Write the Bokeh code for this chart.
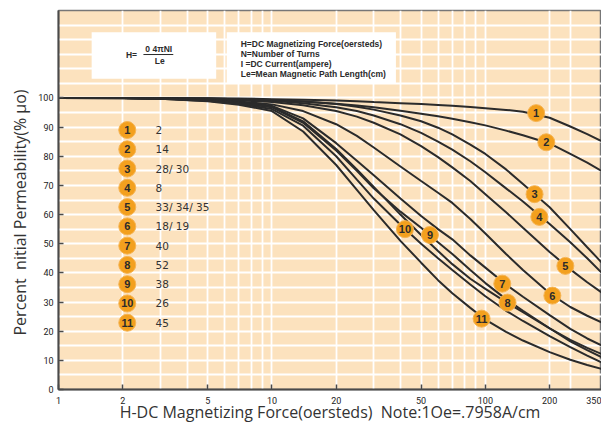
from bokeh.plotting import figure
from bokeh.models import FixedTicker, CustomJSTickFormatter, Title
from bokeh.core.properties import value
from bokeh.embed import file_html
from bokeh.resources import INLINE

# ---------------- data ----------------
H = [1, 2, 3, 5, 7, 10, 14, 20, 25, 30, 40, 50, 60, 70, 85, 100, 125, 150, 200, 250, 300, 350]

c1 = [100, 100, 100, 99.9, 99.8, 99.6, 99.4, 99.1, 98.9, 98.6, 98.2, 97.9, 97.6, 97.3, 96.9, 96.5, 95.9, 95.3, 93.2, 90.2, 87.6, 85.2]
c2 = [100, 100, 99.9, 99.8, 99.6, 99.3, 98.8, 98.0, 97.4, 96.8, 95.6, 94.6, 93.7, 92.9, 91.7, 90.6, 88.8, 87.2, 84.4, 80.8, 77.8, 75.0]
c3 = [100, 100, 99.9, 99.8, 99.6, 99.3, 98.8, 97.9, 97.0, 96.0, 94.0, 92.0, 89.8, 87.5, 84.0, 80.8, 75.5, 70.5, 62.5, 55.0, 48.8, 43.6]
c4 = [100, 100, 99.9, 99.7, 99.4, 99.0, 98.2, 96.8, 95.5, 94.0, 91.0, 88.0, 85.0, 82.3, 78.3, 74.5, 69.0, 64.5, 56.8, 50.5, 45.0, 40.1]
c5 = [100, 100, 99.9, 99.6, 99.2, 98.6, 97.5, 95.5, 93.6, 91.5, 87.5, 83.5, 79.7, 76.2, 71.5, 67.0, 60.8, 55.5, 47.2, 41.2, 36.8, 33.3]
c6 = [100, 100, 99.8, 99.4, 98.8, 97.8, 95.5, 91.0, 87.0, 83.0, 76.5, 71.5, 67.5, 64.0, 58.5, 53.5, 46.5, 41.0, 33.0, 28.3, 25.3, 23.0]
c7 = [100, 100, 99.8, 99.3, 98.6, 97.3, 93.0, 84.5, 78.5, 73.5, 65.5, 59.5, 55.0, 51.5, 46.0, 41.8, 36.0, 31.8, 25.5, 20.8, 17.5, 15.1]
c8 = [100, 100, 99.8, 99.2, 98.4, 97.0, 92.0, 82.5, 75.5, 69.5, 60.0, 53.0, 47.5, 43.0, 38.0, 34.5, 30.0, 26.5, 21.0, 17.0, 14.3, 12.2]
c9 = [100, 100, 99.8, 99.2, 98.3, 96.8, 91.5, 82.0, 75.0, 69.0, 61.0, 55.5, 50.5, 46.5, 41.0, 36.5, 31.0, 27.0, 21.0, 16.5, 13.5, 11.1]
c10 = [100, 99.9, 99.7, 99.0, 98.0, 96.2, 90.5, 80.0, 72.0, 65.5, 56.5, 50.0, 45.0, 41.0, 36.0, 32.0, 27.0, 23.5, 18.3, 14.5, 11.6, 9.3]
c11 = [100, 99.9, 99.7, 98.9, 97.7, 95.5, 88.5, 77.0, 68.5, 61.5, 51.0, 43.5, 37.5, 33.0, 28.0, 24.0, 19.8, 16.8, 12.8, 10.2, 8.4, 7.1]
curves = [c1, c2, c3, c4, c5, c6, c7, c8, c9, c10, c11]

curve_ids = ["1", "2", "3", "4", "5", "6", "7", "8", "9", "10", "11"]
label_h = [173, 193, 170, 179, 237, 206, 120, 127, 55, 42, 96]
label_v = [94.8, 84.8, 67.0, 59.2, 42.4, 32.2, 36.3, 29.8, 53.0, 55.0, 24.3]
legend_text = ["2", "14", "28/ 30", "8", "33/ 34/ 35", "18/ 19", "40", "52", "38", "26", "45"]

x_ticks = [1, 2, 5, 10, 20, 50, 100, 200, 350]
x_grid = [2, 3, 4, 5, 6, 7, 8, 9, 10, 20, 30, 40, 50, 60, 70, 80, 90, 100, 200, 250]
y_ticks = [0, 10, 20, 30, 40, 50, 60, 70, 80, 90, 100]
y_grid = list(range(5, 130, 5))

note_lines = ["H=DC Magnetizing Force(oersteds)", "N=Number of Turns",
              "I =DC Current(ampere)", "Le=Mean Magnetic Path Length(cm)"]

x_title = "H-DC Magnetizing Force(oersteds)\u00a0 Note:1Oe=.7958A/cm"
y_title = "Percent\u00a0 nitial Permeability(% \u03bco)"

# ---------------- styles ----------------
BG = "#FCE2BE"
ORANGE = "#F3A01E"
INK = "#2b2b2b"

p = figure(width=601, height=425, x_axis_type="log", x_range=(1, 350), y_range=(0, 130),
           output_backend="svg", toolbar_location=None,
           min_border_left=58, min_border_right=0, min_border_top=10, min_border_bottom=36,
           background_fill_color=BG, border_fill_color="white")
p.outline_line_color = "#777777"
p.outline_line_width = 1.5

p.xaxis.ticker = FixedTicker(ticks=x_ticks)
p.xaxis.formatter = CustomJSTickFormatter(code="return String(tick)")
p.yaxis.ticker = FixedTicker(ticks=y_ticks)
p.xgrid.ticker = FixedTicker(ticks=x_grid)
p.ygrid.ticker = FixedTicker(ticks=y_grid)
for g in (p.xgrid, p.ygrid):
    g.grid_line_color = "white"
    g.grid_line_width = 1.8
for ax in (p.xaxis, p.yaxis):
    ax.axis_line_color = "#4a4a4a"
    ax.axis_line_width = 2
    ax.major_tick_line_color = "#4a4a4a"
    ax.major_tick_line_width = 1.5
    ax.major_tick_in = 5
    ax.major_tick_out = 0
    ax.minor_tick_line_color = None
    ax.major_label_text_font = "Roboto"
    ax.major_label_text_font_size = "9px"
    ax.major_label_text_color = "#222222"
    ax.major_label_text_line_height = 1.0
p.xaxis.major_label_standoff = 7
p.yaxis.major_label_standoff = 5

p.xaxis.axis_label = x_title
p.xaxis.axis_label_standoff = -6
p.xaxis.axis_label_text_font = "Open Sans"
p.xaxis.axis_label_text_font_size = "16px"
p.xaxis.axis_label_text_font_style = "normal"
p.xaxis.axis_label_text_color = "#333333"
p.xaxis.axis_label_text_line_height = 1.0

# vertical title; trailing no-break spaces move the visible text a little lower
p.add_layout(Title(text=y_title + "\u00a0" * 6, align="center", standoff=10,
                   text_font="Open Sans", text_font_size="16px", text_font_style="normal",
                   text_color="#333333"), "left")

# white info boxes
p.quad(left=[1.43, 6.14], right=[5.48, 38.1], bottom=[106.6, 105.1], top=[122.5, 122.5],
       fill_color="white", line_color=None)

# formula
p.text(x=[2.07], y=[114.6], text=["H="], text_font=value("Liberation Sans"), text_font_style="bold",
       text_font_size="8.5px", text_color=INK, text_align="left", text_baseline="middle")
p.text(x=[2.95], y=[116.9], text=["0 4\u03c0NI"], text_font=value("Liberation Sans"), text_font_style="bold",
       text_font_size="8.5px", text_color=INK, text_align="center", text_baseline="middle")
p.segment(x0=[2.5], x1=[3.45], y0=[114.9], y1=[114.9], line_color=INK, line_width=1)
p.text(x=[2.98], y=[112.6], text=["Le"], text_font=value("Liberation Sans"), text_font_style="bold",
       text_font_size="8.5px", text_color=INK, text_align="center", text_baseline="middle")

# note text
p.text(x=[7.14] * 4, y=[118.5, 115.2, 111.6, 108.3], text=note_lines,
       text_font=value("Liberation Sans"), text_font_style="bold", text_font_size="8.5px",
       text_color=INK, text_align="left", text_baseline="middle")

# curves
for c in curves:
    p.line(H, c, line_color=INK, line_width=2)

# curve labels
p.scatter(label_h, label_v, size=17, fill_color=ORANGE, line_color="#F6B453", line_width=1)
p.text(x=label_h, y=label_v, text=curve_ids, text_font=value("Liberation Sans"), text_font_style="bold",
       text_font_size="11px", text_color=INK, text_align="center", text_baseline="middle")

# legend
leg_y = [89.0 - 6.61 * i for i in range(len(curve_ids))]
p.scatter([2.1] * len(curve_ids), leg_y, size=17, fill_color=ORANGE, line_color="#F6B453", line_width=1)
p.text(x=[2.1] * len(curve_ids), y=leg_y, text=curve_ids, text_font=value("Liberation Sans"),
       text_font_style="bold", text_font_size="11px", text_color=INK, text_align="center",
       text_baseline="middle")
p.text(x=[2.85] * len(curve_ids), y=leg_y, text=legend_text, text_font=value("DejaVu Sans"),
       text_font_size="10.5px", text_color="#333333", text_align="left", text_baseline="middle")

open("out.html", "w").write(file_html(p, INLINE))
